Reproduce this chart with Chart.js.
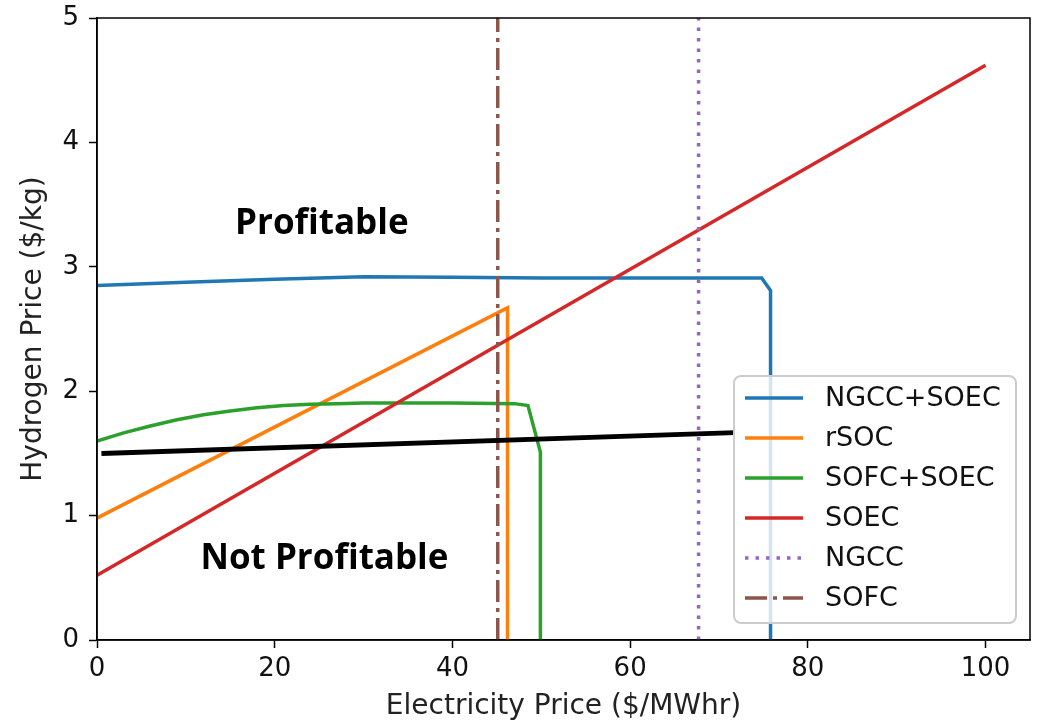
<!DOCTYPE html>
<html>
<head>
<meta charset="utf-8">
<script src="https://cdn.jsdelivr.net/npm/chart.js@4/dist/chart.umd.min.js"></script>
<style>
  html, body { margin: 0; padding: 0; background: #fff; }
  #wrap { width: 1038px; height: 724px; }
</style>
</head>
<body>
<div id="wrap"><canvas id="chart" width="1038" height="724"></canvas></div>
<script>
// values
const xTicks = [0, 20, 40, 60, 80, 100];
const yTicks = [0, 1, 2, 3, 4, 5];

const ngccSoecX = [0, 10, 20, 30, 40, 50, 60, 70, 74.8, 75.8, 75.8];
const ngccSoecY = [2.85, 2.875, 2.90, 2.92, 2.915, 2.91, 2.91, 2.91, 2.91, 2.81, 0];

const rsocX = [0, 45.9, 46.2, 46.2];
const rsocY = [0.98, 2.66, 2.67, 0];

const sofcSoecX = [0, 3, 6, 9, 12, 15, 18, 21, 24, 27, 30, 40, 47, 48.5, 49.9, 49.9];
const sofcSoecY = [1.60, 1.665, 1.72, 1.77, 1.81, 1.84, 1.867, 1.885, 1.896, 1.90, 1.905, 1.905, 1.90, 1.885, 1.51, 0];

const soecX = [0, 100];
const soecY = [0.52, 4.62];

const ngccX = [67.7, 67.7];
const ngccY = [0, 5];

const sofcX = [45.1, 45.1];
const sofcY = [0, 5];

const breakEvenX = [0.5, 71.8];
const breakEvenY = [1.50, 1.667];

const notes = [
  { text: 'Profitable', x: 25.3, y: 3.34 },
  { text: 'Not Profitable', x: 25.6, y: 0.65 }
];

function pts(xs, ys) {
  return xs.map((x, i) => ({ x: x, y: ys[i] }));
}

const tickFont = { family: 'DejaVu Sans', size: 26 };
const labelFont = { family: 'DejaVu Sans', size: 28 };

const series = [
  { label: 'NGCC+SOEC', data: pts(ngccSoecX, ngccSoecY), borderColor: '#1f77b4', borderWidth: 3.5 },
  { label: 'rSOC', data: pts(rsocX, rsocY), borderColor: '#ff7f0e', borderWidth: 3.5 },
  { label: 'SOFC+SOEC', data: pts(sofcSoecX, sofcSoecY), borderColor: '#2ca02c', borderWidth: 3.5 },
  { label: 'SOEC', data: pts(soecX, soecY), borderColor: '#d62728', borderWidth: 3.5 },
  { label: 'NGCC', data: pts(ngccX, ngccY), borderColor: '#9467bd', borderWidth: 3.5, borderDash: [3.5, 7] },
  { label: 'SOFC', data: pts(sofcX, sofcY), borderColor: '#8c564b', borderWidth: 3.5, borderDash: [22, 6, 4, 6] },
  { label: '', data: pts(breakEvenX, breakEvenY), borderColor: '#000', borderWidth: 5, noLegend: true }
];

series.forEach((s, i) => {
  s.showLine = true;
  s.pointRadius = 0;
  s.pointHoverRadius = 0;
  s.fill = false;
  s.tension = 0;
  s.order = series.length - i;
});

const framePlugin = {
  id: 'frame',
  afterDraw(chart) {
    const ctx = chart.ctx;
    const a = chart.chartArea;
    ctx.save();
    ctx.strokeStyle = '#000';
    ctx.lineWidth = 1.5;
    ctx.strokeRect(a.left, a.top, a.right - a.left, a.bottom - a.top);
    ctx.restore();
  }
};

const notesPlugin = {
  id: 'notes',
  afterDatasetsDraw(chart) {
    const ctx = chart.ctx;
    const xs = chart.scales.x, ys = chart.scales.y;
    ctx.save();
    ctx.fillStyle = '#000';
    ctx.font = 'bold 35px "Open Sans"';
    ctx.textAlign = 'center';
    ctx.textBaseline = 'middle';
    notes.forEach(n => ctx.fillText(n.text, xs.getPixelForValue(n.x), ys.getPixelForValue(n.y)));
    ctx.restore();
  }
};

const legendPlugin = {
  id: 'boxLegend',
  afterDraw(chart) {
    const ctx = chart.ctx;
    const a = chart.chartArea;
    const items = chart.data.datasets.filter(d => !d.noLegend);
    const rowH = 40, w = 282, h = items.length * rowH + 7;
    const right = a.right - 14, bottom = a.bottom - 17;
    const left = right - w, top = bottom - h;
    ctx.save();
    ctx.beginPath();
    ctx.roundRect(left, top, w, h, 7);
    ctx.fillStyle = 'rgba(255,255,255,0.8)';
    ctx.fill();
    ctx.strokeStyle = '#cccccc';
    ctx.lineWidth = 2;
    ctx.stroke();
    ctx.font = '27px "DejaVu Sans"';
    ctx.textBaseline = 'middle';
    items.forEach((d, i) => {
      const cy = top + 22 + i * rowH;
      ctx.beginPath();
      ctx.setLineDash(d.borderDash || []);
      ctx.strokeStyle = d.borderColor;
      ctx.lineWidth = d.borderWidth;
      ctx.moveTo(left + 11, cy);
      ctx.lineTo(left + 69, cy);
      ctx.stroke();
      ctx.setLineDash([]);
      ctx.fillStyle = '#111';
      ctx.fillText(d.label, left + 91, cy + 1);
    });
    ctx.restore();
  }
};

const ctx = document.getElementById('chart').getContext('2d');
new Chart(ctx, {
  type: 'scatter',
  data: { datasets: series },
  options: {
    responsive: false,
    animation: false,
    devicePixelRatio: 1,
    layout: { padding: { top: 18, right: 8, left: 0, bottom: 0 } },
    plugins: { legend: { display: false }, tooltip: { enabled: false } },
    scales: {
      x: {
        type: 'linear',
        min: 0,
        max: 105,
        afterBuildTicks: s => { s.ticks = xTicks.map(v => ({ value: v })); },
        afterFit: s => { s.height = 84; s.paddingLeft = 0; s.paddingRight = 0; },
        ticks: { color: '#111', font: tickFont, padding: 6, maxRotation: 0 },
        grid: { drawOnChartArea: false, drawTicks: true, tickLength: 8, color: '#000', tickWidth: 1.5 },
        border: { display: true, color: '#000', width: 1.5 },
        title: { display: true, text: 'Electricity Price ($/MWhr)', color: '#222', font: labelFont, padding: { top: 4, bottom: 0 } }
      },
      y: {
        type: 'linear',
        min: 0,
        max: 5,
        afterBuildTicks: s => { s.ticks = yTicks.map(v => ({ value: v })); },
        afterFit: s => { s.width = 97; s.paddingTop = 0; s.paddingBottom = 0; },
        ticks: { color: '#111', font: tickFont, padding: 10 },
        grid: { drawOnChartArea: false, drawTicks: true, tickLength: 8, color: '#000', tickWidth: 1.5 },
        border: { display: true, color: '#000', width: 1.5 },
        title: { display: true, text: 'Hydrogen Price ($/kg)', color: '#222', font: labelFont, padding: { top: 17, bottom: 0 } }
      }
    }
  },
  plugins: [framePlugin, notesPlugin, legendPlugin]
});
</script>
</body>
</html>
